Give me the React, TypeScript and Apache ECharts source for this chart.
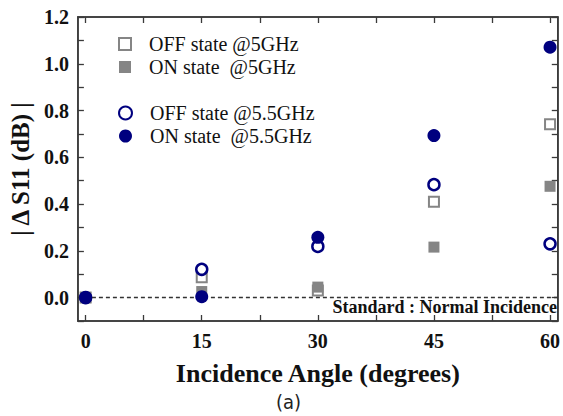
import React, { useEffect, useRef } from "react";
import * as echarts from "echarts";

const angles = [0, 15, 30, 45, 60];
const off5 = [0, 0.087, 0.03, 0.41, 0.741];
const on5 = [0, 0.026, 0.045, 0.216, 0.476];
const off55 = [0, 0.121, 0.219, 0.483, 0.23];
const on55 = [0, 0.004, 0.258, 0.693, 1.071];

const xTicks = [0, 7.5, 15, 22.5, 30, 37.5, 45, 52.5, 60];
const xLabels = [0, 15, 30, 45, 60];
const yTicks = [-0.1, 0, 0.1, 0.2, 0.3, 0.4, 0.5, 0.6, 0.7, 0.8, 0.9, 1.0, 1.1, 1.2];
const yLabels = [0, 0.2, 0.4, 0.6, 0.8, 1.0, 1.2];

const NAVY = "#00007f";
const GRAY = "#858585";
const SERIF = "'Liberation Serif', 'Times New Roman', serif";

const pairs = (ys: number[]) => angles.map((a, i) => [a, ys[i]]);
const mkLine = () => ({ show: true, onZero: false, lineStyle: { color: "#3a3a3a", width: 1.5 } });
const mkTick = (vals: number[]) => ({
  show: true, inside: true, length: 6, customValues: vals.slice(),
  lineStyle: { color: "#3a3a3a", width: 1.3 },
});

export default function App() {
  const ref = useRef<HTMLDivElement>(null);
  useEffect(() => {
    if (!ref.current) return;
    const chart = echarts.init(ref.current, null, { renderer: "svg" });
    chart.setOption({
      animation: false,
      backgroundColor: "#fff",
      grid: {
        left: 75, top: 17, right: 4, bottom: 95,
        show: true, borderColor: "#3a3a3a", borderWidth: 1.5, backgroundColor: "transparent",
      },
      xAxis: [
        {
          type: "value", min: -1, max: 61, position: "bottom",
          axisLine: mkLine(), splitLine: { show: false },
          axisTick: mkTick(xTicks),
          axisLabel: {
            customValues: xLabels.slice(), margin: 10, hideOverlap: false,
            fontFamily: SERIF, fontWeight: "bold", fontSize: 20, color: "#111",
          },
          name: "Incidence Angle (degrees)", nameLocation: "middle", nameGap: 39,
          nameTextStyle: { fontFamily: SERIF, fontWeight: "bold", fontSize: 26, color: "#111" },
        },
        {
          type: "value", min: -1, max: 61, position: "top",
          axisLine: mkLine(), splitLine: { show: false },
          axisTick: mkTick(xTicks),
          axisLabel: { show: false, customValues: xLabels.slice() },
        },
      ],
      yAxis: [
        {
          type: "value", min: -0.1, max: 1.2, position: "left",
          axisLine: mkLine(), splitLine: { show: false },
          axisTick: mkTick(yTicks),
          axisLabel: {
            customValues: yLabels.slice(), margin: 9,
            formatter: (v: number) => v.toFixed(1),
            fontFamily: SERIF, fontWeight: "bold", fontSize: 20, color: "#111",
          },
          name: "| \u0394 S11 (dB) |", nameLocation: "middle", nameGap: 44, nameRotate: 90,
          nameTextStyle: { fontFamily: SERIF, fontWeight: "bold", fontSize: 25, color: "#111" },
        },
        {
          type: "value", min: -0.1, max: 1.2, position: "right",
          axisLine: mkLine(), splitLine: { show: false },
          axisTick: mkTick(yTicks),
          axisLabel: { show: false, customValues: yLabels.slice() },
        },
      ],
      legend: [
        {
          left: 113, top: 29, orient: "vertical", itemGap: 3, itemWidth: 12, itemHeight: 12,
          data: ["OFF state @5GHz", "ON state  @5GHz"],
          textStyle: { fontFamily: SERIF, fontSize: 20, lineHeight: 20, color: "#111", padding: [0, 0, 0, 13] },
        },
        {
          left: 113, top: 98, orient: "vertical", itemGap: 3, itemWidth: 13, itemHeight: 13,
          data: ["OFF state @5.5GHz", "ON state  @5.5GHz"],
          textStyle: { fontFamily: SERIF, fontSize: 20, lineHeight: 20, color: "#111", padding: [0, 0, 0, 13] },
        },
      ],
      graphic: [
        {
          type: "text", right: 6, top: 298,
          style: {
            text: "Standard : Normal Incidence", fontFamily: SERIF, fontWeight: "bold",
            fontSize: 18, fill: "#111",
          },
        },
        {
          type: "text", left: 276, top: 392,
          style: { text: "(a)", fontFamily: "'DejaVu Sans Condensed', 'Liberation Sans Narrow', sans-serif", fontSize: 20, fill: "#222" },
        },
      ],
      series: [
        {
          name: "OFF state @5GHz", type: "scatter", symbol: "rect", symbolSize: 10,
          itemStyle: { color: "#fff", borderColor: GRAY, borderWidth: 2, opacity: 1 },
          data: pairs(off5), z: 3,
          markLine: {
            silent: true, symbol: "none", label: { show: false },
            lineStyle: { type: [4, 3], color: "#333", width: 1.3 },
            data: [{ yAxis: 0 }],
          },
        },
        {
          name: "ON state  @5GHz", type: "scatter", symbol: "rect", symbolSize: 11,
          itemStyle: { color: GRAY, opacity: 1 },
          data: pairs(on5), z: 3,
        },
        {
          name: "OFF state @5.5GHz", type: "scatter", symbol: "circle", symbolSize: 11,
          itemStyle: { color: "#fff", borderColor: NAVY, borderWidth: 2.5, opacity: 1 },
          data: pairs(off55), z: 4,
        },
        {
          name: "ON state  @5.5GHz", type: "scatter", symbol: "circle", symbolSize: 13,
          itemStyle: { color: NAVY, opacity: 1 },
          data: pairs(on55), z: 5,
        },
      ],
    });
    return () => chart.dispose();
  }, []);
  return (
    <div style={{ position: "fixed", left: 0, top: 0, width: 563, height: 416, overflow: "hidden" }}>
      <div ref={ref} style={{ width: 563, height: 416 }} />
    </div>
  );
}
